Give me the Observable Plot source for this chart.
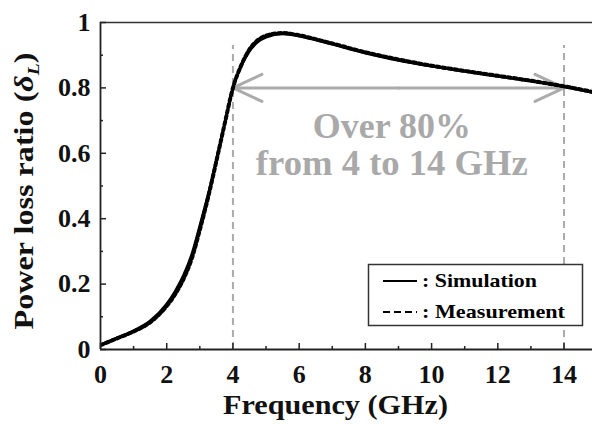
<!DOCTYPE html>
<html>
<head>
<meta charset="utf-8">
<script src="https://cdn.jsdelivr.net/npm/d3@7"></script>
<script src="https://cdn.jsdelivr.net/npm/@observablehq/plot@0.6"></script>
<style>
  html, body { margin: 0; padding: 0; background: #fff; }
  #wrap { position: relative; width: 592px; height: 424px; }
</style>
</head>
<body>
<div id="wrap"></div>
<script>
// Data
const simFreq = [0, 0.5, 1, 1.5, 2, 2.25, 2.5, 2.75, 3, 3.25, 3.5, 3.75, 4, 4.25, 4.5, 4.75, 5, 5.5, 6, 6.5, 7, 8, 9, 10, 11, 12, 13, 14, 15];
const simLoss = [0.015, 0.036, 0.058, 0.088, 0.14, 0.178, 0.226, 0.29, 0.38, 0.475, 0.582, 0.692, 0.80, 0.866, 0.912, 0.94, 0.955, 0.965, 0.958, 0.946, 0.933, 0.906, 0.884, 0.866, 0.850, 0.835, 0.820, 0.803, 0.783];
const measFreq = [0, 0.5, 1, 1.5, 2, 2.25, 2.5, 2.75, 3, 3.25, 3.5, 3.75, 4, 4.25, 4.5, 4.75, 5, 5.5, 6, 6.5, 7, 8, 9, 10, 11, 12, 13, 14, 15];
const measLoss = [0.013, 0.034, 0.055, 0.083, 0.133, 0.168, 0.214, 0.276, 0.366, 0.465, 0.576, 0.69, 0.80, 0.869, 0.918, 0.946, 0.96, 0.968, 0.961, 0.949, 0.936, 0.909, 0.887, 0.868, 0.852, 0.837, 0.822, 0.805, 0.785];

const xTicks = [0, 2, 4, 6, 8, 10, 12, 14];
const xMinor = [1, 3, 5, 7, 9, 11, 13];
const yTicks = [0, 0.2, 0.4, 0.6, 0.8, 1];
const yMinor = [0.1, 0.3, 0.5, 0.7, 0.9];

// dashed guide segments (x, from, to); the 14 GHz guide is hidden behind the legend box
const guideX = [4, 14, 14];
const guideFrom = [0, 0, 0.26];
const guideTo = [0.93, 0.07, 0.93];
const bandEdges = [4, 14];
const bandLevel = 0.8;
const bandMid = 9;
const noteLines = ["Over 80%", "from 4 to 14 GHz"];
const noteX = [8.8, 8.8];
const noteY = [0.68, 0.567];
const noteWidths = [158, 272];

const seriesNames = [": Simulation", ": Measurement"];
const seriesDash = [null, "7,4"];

const sim = simFreq.map((f, i) => ({f, v: simLoss[i]}));
const meas = measFreq.map((f, i) => ({f, v: measLoss[i]}));
const notes = noteLines.map((t, i) => ({t, x: noteX[i], y: noteY[i]}));
const guides = guideX.map((x, i) => ({x, y1: guideFrom[i], y2: guideTo[i]}));

const serif = "Liberation Serif";
const gray = "#ababab";

const chart = Plot.plot({
  width: 592,
  height: 424,
  marginLeft: 100,
  marginRight: 0,
  marginTop: 22,
  marginBottom: 75,
  style: {background: "#fff", overflow: "visible", fontFamily: serif},
  x: {domain: [0, 14.86]},
  y: {domain: [0, 1]},
  marks: [
    // guides
    Plot.ruleX(guides, {x: "x", y1: "y1", y2: "y2", stroke: gray, strokeWidth: 2, strokeDasharray: "7,5"}),
    Plot.arrow(bandEdges, {x1: bandMid, x2: d => d, y1: bandLevel, y2: bandLevel, bend: 0, stroke: gray, strokeWidth: 3, headLength: 16, headAngle: 50, insetEnd: 0}),
    Plot.text(notes, {x: "x", y: "y", text: "t", fill: "#a9a9a9", fontSize: 35, fontWeight: "bold", fontFamily: serif, className: "note"}),
    // curves
    Plot.line(sim, {x: "f", y: "v", stroke: "#000", strokeWidth: 2.5, curve: "monotone-x", clip: true}),
    Plot.line(meas, {x: "f", y: "v", stroke: "#000", strokeWidth: 4, strokeDasharray: "3,3", curve: "monotone-x", clip: true}),
    // frame
    Plot.ruleY([1], {stroke: "#333", strokeWidth: 1.5}),
    Plot.ruleY([0], {stroke: "#222", strokeWidth: 1.8}),
    Plot.ruleX([0], {stroke: "#222", strokeWidth: 1.8}),
    // inward ticks
    Plot.ruleX(xTicks, {x: d => d, y1: 0, y2: 0, insetBottom: 6, stroke: "#222", strokeWidth: 1.5}),
    Plot.ruleX(xMinor, {x: d => d, y1: 0, y2: 0, insetBottom: 3, stroke: "#222", strokeWidth: 1.5}),
    Plot.ruleY(yTicks, {y: d => d, x1: 0, x2: 0, insetRight: -6, stroke: "#222", strokeWidth: 1.5}),
    Plot.ruleY(yMinor, {y: d => d, x1: 0, x2: 0, insetRight: -3, stroke: "#222", strokeWidth: 1.5}),
    // axes labels
    Plot.axisX(xTicks, {tickSize: 0, tickPadding: 15, label: null, tickFormat: d => String(d), fontSize: 26, fontWeight: "bold", fontFamily: serif, fill: "#111"}),
    Plot.axisY(yTicks, {tickSize: 0, tickPadding: 10, label: null, tickFormat: d => String(d), fontSize: 26, fontWeight: "bold", fontFamily: serif, fill: "#111"})
  ]
});

document.getElementById("wrap").appendChild(chart);
const svg = d3.select(chart);

// stretch annotation text to the reference widths
svg.selectAll(".note text").each(function(d, i) {
  d3.select(this).attr("textLength", noteWidths[i]).attr("lengthAdjust", "spacingAndGlyphs");
});

// x axis title
svg.append("text")
  .attr("x", 335.5).attr("y", 414)
  .attr("text-anchor", "middle")
  .attr("font-family", serif).attr("font-weight", "bold").attr("font-size", 27)
  .attr("textLength", 225).attr("lengthAdjust", "spacingAndGlyphs")
  .attr("fill", "#111")
  .text("Frequency (GHz)");

// y axis title with italic delta and subscript L
const yt = svg.append("text")
  .attr("transform", "translate(33,191) rotate(-90)")
  .attr("text-anchor", "middle")
  .attr("font-family", serif).attr("font-weight", "bold").attr("font-size", 28)
  .attr("textLength", 277).attr("lengthAdjust", "spacingAndGlyphs")
  .attr("fill", "#111");
yt.append("tspan").text("Power loss ratio (");
yt.append("tspan").attr("font-style", "italic").text("δ");
yt.append("tspan").attr("font-style", "italic").attr("font-size", 17).attr("dy", 6).text("L");
yt.append("tspan").attr("dy", -6).text(")");

// legend box
const lg = svg.append("g").attr("text-anchor", "start");
lg.append("rect").attr("x", 368.5).attr("y", 264.5).attr("width", 214).attr("height", 61)
  .attr("fill", "#fff").attr("stroke", "#333").attr("stroke-width", 1.5);
const rowsY = [281, 312];
const textW = [115, 143];
seriesNames.forEach((name, i) => {
  lg.append("line").attr("x1", 383).attr("x2", 417).attr("y1", rowsY[i]).attr("y2", rowsY[i])
    .attr("stroke", "#000").attr("stroke-width", 2).attr("stroke-dasharray", seriesDash[i]);
  lg.append("text").attr("x", 422).attr("y", rowsY[i] + 6)
    .attr("text-anchor", "start")
    .attr("font-family", serif).attr("font-weight", "bold").attr("font-size", 19)
    .attr("textLength", textW[i]).attr("lengthAdjust", "spacingAndGlyphs")
    .attr("fill", "#000").text(name);
});
</script>
</body>
</html>
